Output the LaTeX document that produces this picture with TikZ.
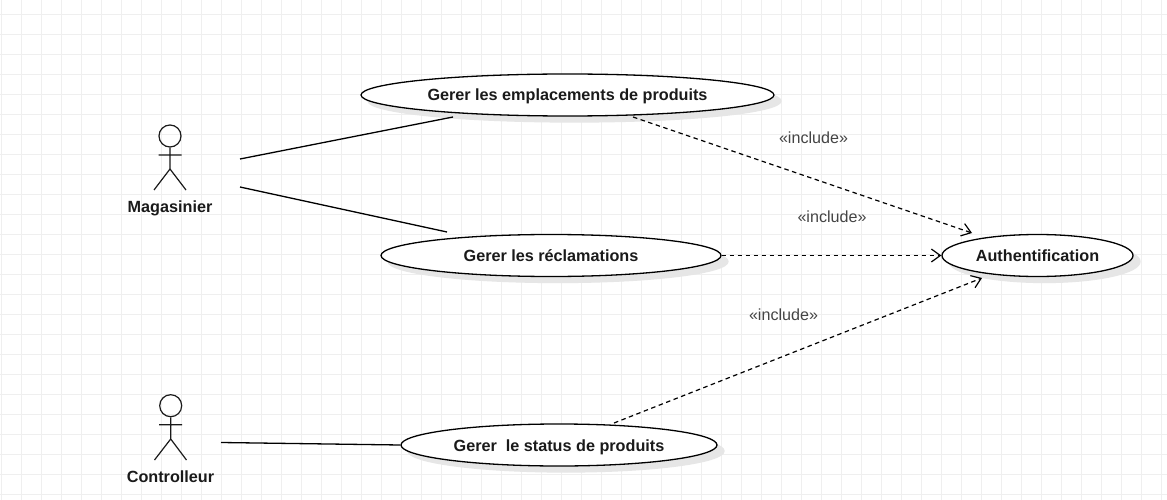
\documentclass[tikz,border=0pt]{standalone}
\usepackage{fontspec}
\setmainfont{Liberation Sans}
\usetikzlibrary{shapes.geometric,arrows.meta,shadows}
\definecolor{gridc}{HTML}{EFEFEF}
\definecolor{inkc}{HTML}{1A1A1A}
\definecolor{labc}{HTML}{444444}
\definecolor{shadc}{HTML}{E6E6E6}
\tikzset{
  usecase/.style={ellipse,draw=black,line width=1.3pt,fill=white,inner sep=0pt,
    font=\fontsize{16.2}{19}\selectfont\bfseries,text=inkc,text height=12.5pt,text depth=0.5pt,
    minimum height=42pt,
    general shadow={shadow xshift=7pt,shadow yshift=-6pt,fill=shadc,draw=shadc}},
  actorlabel/.style={font=\fontsize{16.2}{19}\selectfont\bfseries,text=inkc,inner sep=0pt,text height=12.5pt,text depth=0.5pt},
  inclabel/.style={font=\fontsize{16.1}{19}\selectfont,text=labc,inner sep=0pt},
  assoc/.style={line width=1.3pt,draw=black},
  incl/.style={line width=1.2pt,draw=black,dash pattern=on 4.5pt off 3.5pt,
    -{Straight Barb[length=9pt,width=13pt,line width=1.2pt]}},
  stick/.style={line width=1.2pt,draw=inkc},
}
\begin{document}
\begin{tikzpicture}[x=1pt,y=-1pt]
\useasboundingbox (0,0) rectangle (1167,500);
\fill[white] (0,0) rectangle (1167,500);
\foreach \gx in {1.5,21.5,...,1161.5} \draw[gridc,line width=1pt] (\gx,0) -- (\gx,500);
\foreach \gy in {14.5,34.5,...,494.5} \draw[gridc,line width=1pt] (0,\gy) -- (1167,\gy);

% use cases
\node[usecase,minimum width=413pt] (uc1) at (567.5,95) {Gerer les emplacements de produits};
\node[usecase,minimum width=340pt] (uc2) at (551,255.5) {Gerer les réclamations};
\node[usecase,minimum width=316pt] (uc3) at (559,445) {Gerer\ \ le status de produits};
\node[usecase,minimum width=191pt] (auth) at (1037.5,255.5) {Authentification};

% actors
\node[circle,draw=inkc,line width=1.2pt,minimum size=22pt,inner sep=0pt] (h1) at (170,136) {};
\coordinate (b1) at (170,169);
\coordinate (al1) at (158.5,155);
\coordinate (ar1) at (181.5,155);
\coordinate (ll1) at (154,190);
\coordinate (lr1) at (186,190);
\draw[stick] (h1.south) -- (b1) (al1) -- (ar1) (ll1) -- (b1) -- (lr1);
\node[actorlabel] (magasinier) at (170,206.7) {Magasinier};

\node[circle,draw=inkc,line width=1.2pt,minimum size=22pt,inner sep=0pt] (h2) at (170.7,405.7) {};
\coordinate (b2) at (170.7,439);
\coordinate (al2) at (159,424.7);
\coordinate (ar2) at (182,424.7);
\coordinate (ll2) at (154.5,460);
\coordinate (lr2) at (186.5,460);
\draw[stick] (h2.south) -- (b2) (al2) -- (ar2) (ll2) -- (b2) -- (lr2);
\node[actorlabel] (controlleur) at (170.5,476.7) {Controlleur};

% association ends
\coordinate (m1) at (240,159);
\coordinate (m2) at (240,187);
\coordinate (c1) at (221,442.5);
\coordinate (t1) at (453,117);
\coordinate (t2) at (447,232);
\draw[assoc] (m1) -- (t1);
\draw[assoc] (m2) -- (t2);
\draw[assoc] (c1) -- (uc3.west);

% include ends
\coordinate (s1) at (633,117);
\coordinate (e1) at (972,233);
\coordinate (s3) at (614,423);
\coordinate (e3) at (982,278);
\draw[incl] (s1) -- (e1);
\draw[incl] (uc2.east) -- (auth.west);
\draw[incl] (s3) -- (e3);

\node[inclabel] (l1) at (813.5,138) {«include»};
\node[inclabel] (l2) at (832,217) {«include»};
\node[inclabel] (l3) at (783.5,315) {«include»};
\end{tikzpicture}
\end{document}
